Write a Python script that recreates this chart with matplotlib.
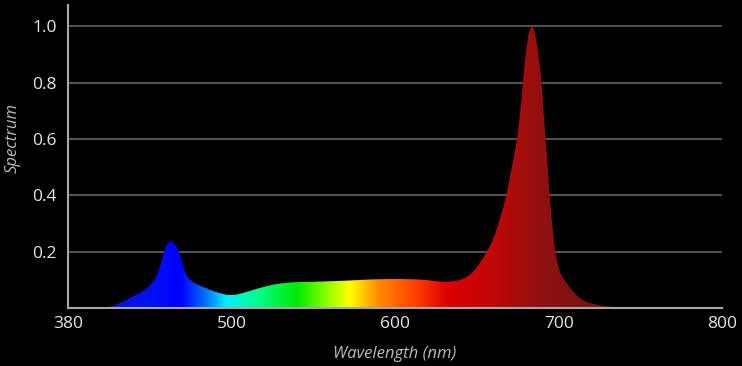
"""Espectro de emisión (LED azul + rojo) sobre fondo negro, relleno con los colores del espectro."""
import matplotlib.pyplot as plt
import numpy as np
from matplotlib.colors import LinearSegmentedColormap
from matplotlib.patches import PathPatch
from matplotlib.path import Path

# datos
longitud_onda = [400, 410, 420, 427, 435, 441, 444, 447, 450.5, 453, 455.5, 458, 461.5,
                 465, 468.5, 473.5, 480, 486, 492, 498, 502, 508, 515, 522, 530,
                 540, 550, 560, 570, 580, 590, 600, 610, 618, 625, 632, 638, 645, 650,
                 655, 660, 664, 668, 671, 674, 676, 678, 680, 682, 684, 686, 688, 689.5,
                 691, 692, 693.5, 694.5, 696, 698, 699.5, 701.5, 704, 708, 713, 718, 725,
                 732, 740]
espectro = [0.0, 0.004, 0.022, 0.04, 0.06, 0.085, 0.105, 0.14, 0.2, 0.228, 0.238, 0.228,
            0.2, 0.14, 0.105, 0.087, 0.073, 0.061, 0.052, 0.046,
            0.047, 0.055, 0.067, 0.078, 0.087, 0.092, 0.093, 0.095, 0.097, 0.1, 0.102,
            0.103, 0.102, 0.1, 0.095, 0.093, 0.097, 0.115, 0.145, 0.19, 0.245, 0.315, 0.4,
            0.49, 0.58, 0.67, 0.79, 0.91, 0.98, 1.0, 0.96, 0.88, 0.8,
            0.68, 0.6, 0.48, 0.4, 0.3, 0.2, 0.155, 0.118, 0.095, 0.065, 0.035, 0.02, 0.01,
            0.004, 0.0]
ticks_x = [380, 500, 600, 700, 800]
ticks_y = [0.2, 0.4, 0.6, 0.8, 1.0]

# paradas de color (nm -> color) para el degradado
PARADAS = [(380, "#1a14c8"), (440, "#0010f0"), (462, "#0000ff"), (478, "#0060ff"),
           (496, "#00f0ff"), (515, "#00ff90"), (540, "#00e800"), (558, "#90ff00"),
           (572, "#ffff00"), (590, "#ff8800"), (612, "#ff4000"), (632, "#dd0000"),
           (660, "#c00808"), (690, "#901010"), (730, "#701515"), (800, "#601515")]


def fwd(x):
    # el tramo 380–500 ocupa lo mismo que 100 nm
    x = np.asarray(x, dtype=float)
    return np.where(x < 500, 500 - (500 - x) * 100 / 120, x)


def inv(u):
    u = np.asarray(u, dtype=float)
    return np.where(u < 500, 500 - (500 - u) * 120 / 100, u)


def pendientes(x, y):
    # pendientes monótonas (Fritsch–Carlson) para dibujar la curva con Bézier
    h = np.diff(x)
    d = np.diff(y) / h
    m = np.zeros(len(x))
    m[0], m[-1] = d[0], d[-1]
    for k in range(1, len(x) - 1):
        if d[k - 1] * d[k] > 0:
            w1, w2 = 2 * h[k] + h[k - 1], h[k] + 2 * h[k - 1]
            m[k] = (w1 + w2) / (w1 / d[k - 1] + w2 / d[k])
    return m


def camino_relleno(x, y):
    x, y = np.asarray(x, float), np.asarray(y, float)
    m = pendientes(x, y)
    verts = [(x[0], 0), (x[0], y[0])]
    codes = [Path.MOVETO, Path.LINETO]
    for k in range(len(x) - 1):
        dx = x[k + 1] - x[k]
        verts += [(x[k] + dx / 3, y[k] + m[k] * dx / 3),
                  (x[k + 1] - dx / 3, y[k + 1] - m[k + 1] * dx / 3),
                  (x[k + 1], y[k + 1])]
        codes += [Path.CURVE4] * 3
    verts += [(x[-1], 0), (x[0], 0)]
    codes += [Path.LINETO, Path.CLOSEPOLY]
    return Path(verts, codes)


fig = plt.figure(figsize=(7.42, 3.66), dpi=100, facecolor="black")
ax = fig.add_axes([0.0916, 0.1585, 0.9814 - 0.0916 - 0.008, 0.986 - 0.1585])
ax.set_facecolor("black")
ax.set_xscale("function", functions=(fwd, inv))

# degradado en coordenadas de ejes, recortado por la curva
cmap = LinearSegmentedColormap.from_list(
    "espectro", [((w - 380) / 420, c) for w, c in PARADAS])
f = np.linspace(0, 1, 1200)
u0, u1 = fwd(380), fwd(800)
wl = inv(u0 + f * (u1 - u0))
img = cmap((wl - 380) / 420)[np.newaxis, :, :]
im = ax.imshow(img, extent=(0, 1, 0, 1), transform=ax.transAxes, aspect="auto",
               interpolation="bilinear", zorder=2)
patch = PathPatch(camino_relleno(longitud_onda, espectro), facecolor="none",
                  edgecolor="none", transform=ax.transData)
ax.add_patch(patch)
im.set_clip_path(patch)

ax.set_xlim(380, 800)
ax.set_ylim(0, 1.075)
ax.set_xticks(ticks_x)
ax.set_yticks(ticks_y)
ax.set_yticklabels([f"{v:.1f}" for v in ticks_y])

ax.set_axisbelow(True)
ax.yaxis.grid(True, color="#5a5a5a", lw=1.3)
ax.xaxis.grid(False)
for s in ("top", "right"):
    ax.spines[s].set_visible(False)
for s in ("left", "bottom"):
    ax.spines[s].set_color("#a8a8a8")
    ax.spines[s].set_linewidth(1.5)
    ax.spines[s].set_zorder(3)

ax.tick_params(length=0, labelcolor="#e6e6e6", labelsize=12.5)
ax.tick_params(axis="y", pad=8)
ax.tick_params(axis="x", pad=6)
for t in ax.get_xticklabels() + ax.get_yticklabels():
    t.set_fontfamily("Open Sans")

ax.set_xlabel("Wavelength (nm)", color="#bbbbbb", fontsize=12, style="italic",
              family="Open Sans")
ax.set_ylabel("Spectrum", color="#bbbbbb", fontsize=12, style="italic",
              family="Open Sans")
ax.xaxis.set_label_coords(0.5, -0.125)
ax.yaxis.set_label_coords(-0.072, 0.56)

fig.savefig("out.png", dpi=100, facecolor="black")
